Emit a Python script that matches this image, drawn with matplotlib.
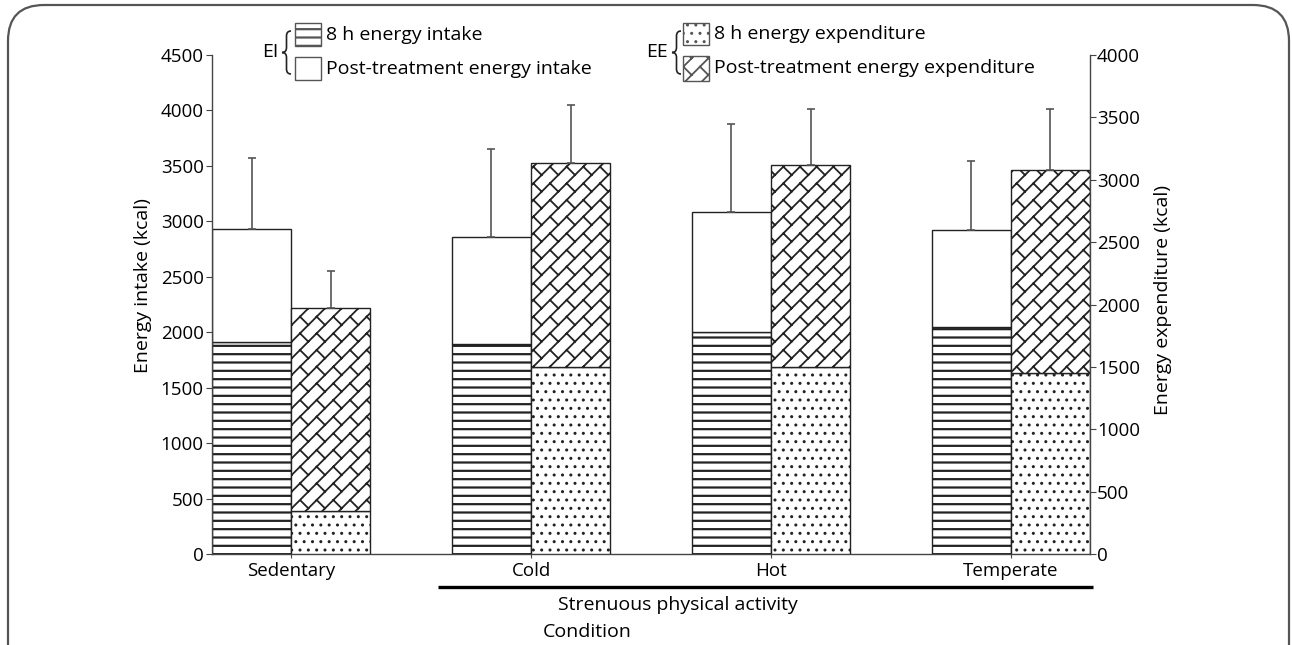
import warnings
import numpy as np
import matplotlib
matplotlib.use('Agg')
import matplotlib.pyplot as plt
import matplotlib.hatch as mhatch
from matplotlib.path import Path
from matplotlib.patches import Rectangle, FancyBboxPatch, PathPatch

warnings.filterwarnings('ignore', message='.*hatch.*')

groups = ['Sedentary', 'Cold', 'Hot', 'Temperate']
ei_8h = [1915, 1890, 2000, 2045]
ei_post = [1015, 970, 1080, 875]
ei_err = [645, 795, 800, 625]
ee_8h = [347, 1500, 1495, 1453]
ee_post = [1627, 1637, 1626, 1625]
ee_err = [294, 460, 446, 492]


# brick-like diagonal hatch ('b'), not available in matplotlib
class BrickHatch(mhatch.HatchPatternBase):
    def __init__(self, hatch, density):
        n = hatch.count('b') * 6
        segs = []
        if n:
            for k in range(-n, n + 1):
                v = k / n
                segs.append(((v - 1, -1.0), (v + 2, 2.0)))
            for k in range(-n, n):
                v0, v1 = k / n, (k + 1) / n
                for j in range(-2, 9):
                    u = j / 3 + (k % 2) / 6
                    segs.append((((u + v0) / 2, (u - v0) / 2),
                                 ((u + v1) / 2, (u - v1) / 2)))
        self.verts = np.array([p for s in segs for p in s], dtype=float)
        self.num_vertices = len(self.verts)

    def set_vertices_and_codes(self, vertices, codes):
        vertices[:] = self.verts
        codes[0::2] = Path.MOVETO
        codes[1::2] = Path.LINETO


mhatch._hatch_types.append(BrickHatch)

plt.rcParams['font.family'] = ['Open Sans', 'DejaVu Sans']
plt.rcParams['hatch.color'] = 'black'

W, H = 1292, 645
fig = plt.figure(figsize=(W / 100, H / 100), dpi=100)
ax = fig.add_axes([212 / W, 91 / H, 878 / W, 499 / H])
ax2 = ax.twinx()

x = np.arange(len(groups))
w = 0.33
edge = '#222222'
fs = 14
tfs = 13.5


def hbar(a, xs, h, bottom, hatch, hlw):
    plt.rcParams['hatch.linewidth'] = hlw
    bars = a.bar(xs, h, w, bottom=bottom, color='white', edgecolor=edge,
                 linewidth=1.0, hatch=hatch)
    for b in bars:
        if hasattr(b, 'set_hatch_linewidth'):
            b.set_hatch_linewidth(hlw)
    return bars


hbar(ax, x - w / 2, ei_8h, 0, '--', 1.6)
hbar(ax, x - w / 2, ei_post, ei_8h, None, 1.0)
hbar(ax2, x + w / 2, ee_8h, 0, '..', 1.0)
hbar(ax2, x + w / 2, ee_post, ee_8h, 'b', 1.3)

ei_tot = np.array(ei_8h) + np.array(ei_post)
ee_tot = np.array(ee_8h) + np.array(ee_post)
ax.errorbar(x - w / 2, ei_tot, yerr=[np.zeros(4), ei_err], fmt='none',
            ecolor='#555555', elinewidth=1.2, capsize=3, capthick=1.2)
ax2.errorbar(x + w / 2, ee_tot, yerr=[np.zeros(4), ee_err], fmt='none',
             ecolor='#555555', elinewidth=1.2, capsize=3, capthick=1.2)

ax.set_xlim(-w, len(groups) - 1 + w)
ax.set_ylim(0, 4500)
ax2.set_ylim(0, 4000)
ax.set_yticks(np.arange(0, 4501, 500))
ax2.set_yticks(np.arange(0, 4001, 500))
ax.set_xticks(x)
ax.set_xticklabels(groups)

for a in (ax, ax2):
    a.spines['top'].set_visible(False)
    for s in a.spines.values():
        s.set_color('#444444')
        s.set_linewidth(1.0)
ax.spines['right'].set_visible(False)
ax2.spines['left'].set_visible(False)
ax2.spines['bottom'].set_visible(False)
ax.tick_params(axis='y', labelsize=tfs, length=4, color='#444444', pad=2)
ax.tick_params(axis='x', labelsize=tfs, length=3, color='#444444', pad=3)
ax2.tick_params(axis='y', labelsize=tfs, length=4, color='#444444', pad=1)

fig.text(143 / W, 1 - 286 / H, 'Energy intake (kcal)', rotation=90,
         ha='center', va='center', fontsize=fs)
fig.text(1163 / W, 1 - 300 / H, 'Energy expenditure (kcal)', rotation=90,
         ha='center', va='center', fontsize=fs)

# overlay in pixel coordinates for legend, group line and frame
ov = fig.add_axes([0, 0, 1, 1], zorder=5)
ov.set_xlim(0, W)
ov.set_ylim(H, 0)
ov.axis('off')
ov.patch.set_alpha(0)

ov.plot([438, 1093], [587, 587], color='black', lw=2.4, solid_capstyle='butt')
ov.text(678, 605, 'Strenuous physical activity', ha='center', va='center',
        fontsize=fs)
ov.text(587, 632, 'Condition', ha='center', va='center', fontsize=fs)

frame = FancyBboxPatch((8, 5), 1281, 760, boxstyle='round,pad=0,rounding_size=36',
                       fill=False, edgecolor='#555555', lw=1.6)
ov.add_patch(frame)


def leg_patch(px, py, ph, hatch, hlw):
    plt.rcParams['hatch.linewidth'] = hlw
    r = Rectangle((px, py), 26, ph, facecolor='white', edgecolor='#555555',
                  lw=1.0, hatch=hatch)
    if hasattr(r, 'set_hatch_linewidth'):
        r.set_hatch_linewidth(hlw)
    ov.add_patch(r)


def brace(xr, y0, y1, bw=9):
    xm, xt = xr - bw / 2, xr - bw
    ym = (y0 + y1) / 2
    r = 5
    verts = [(xr, y0), (xm, y0), (xm, y0 + r), (xm, ym - r), (xm, ym), (xt, ym),
             (xm, ym), (xm, ym + r), (xm, y1 - r), (xm, y1), (xr, y1)]
    codes = [Path.MOVETO, Path.CURVE3, Path.CURVE3, Path.LINETO, Path.CURVE3,
             Path.CURVE3, Path.CURVE3, Path.CURVE3, Path.LINETO, Path.CURVE3,
             Path.CURVE3]
    ov.add_patch(PathPatch(Path(verts, codes), fill=False, edgecolor='#222222',
                           lw=1.2))


leg_patch(295, 23, 23, '--', 1.6)
leg_patch(295, 57, 23, None, 1.0)
leg_patch(683, 23, 22, '..', 1.0)
leg_patch(683, 56, 25, 'b', 1.3)
ov.text(326, 35, '8 h energy intake', ha='left', va='center', fontsize=fs)
ov.text(326, 69, 'Post-treatment energy intake', ha='left', va='center', fontsize=fs)
ov.text(714, 34, '8 h energy expenditure', ha='left', va='center', fontsize=fs)
ov.text(714, 68, 'Post-treatment energy expenditure', ha='left', va='center', fontsize=fs)
ov.text(278, 52, 'EI', ha='right', va='center', fontsize=fs)
ov.text(668, 52, 'EE', ha='right', va='center', fontsize=fs)
brace(291, 31, 74)
brace(681, 31, 74)

fig.savefig('out.png', dpi=100)
